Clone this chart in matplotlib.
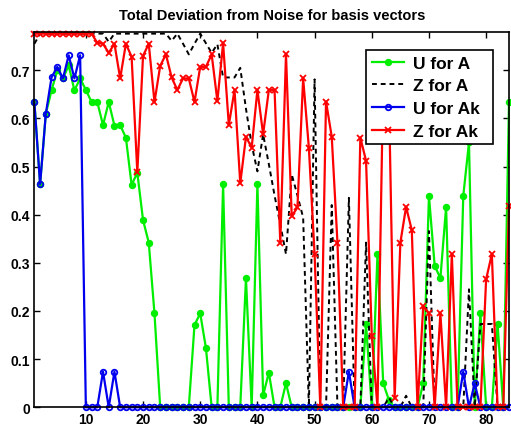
import matplotlib
matplotlib.use("Agg")
import matplotlib.pyplot as plt
import numpy as np

plt.rcParams['font.family'] = ['Liberation Sans', 'DejaVu Sans']
plt.rcParams['font.weight'] = 'bold'

x = list(range(1, 85))

u_for_a = [0.633, 0.463, 0.610, 0.658, 0.700, 0.683, 0.710, 0.658, 0.683, 0.659,
           0.634, 0.634, 0.586, 0.634, 0.585, 0.586, 0.560, 0.462, 0.487, 0.389,
           0.342, 0.195, 0.0, 0.0, 0.0, 0.0, 0.0, 0.0, 0.171, 0.195,
           0.123, 0.0, 0.0, 0.463, 0.0, 0.0, 0.0, 0.268, 0.0, 0.463,
           0.025, 0.072, 0.0, 0.0, 0.050, 0.0, 0.0, 0.0, 0.0, 0.0,
           0.0, 0.0, 0.0, 0.0, 0.0, 0.0, 0.0, 0.0, 0.172, 0.0,
           0.318, 0.050, 0.015, 0.0, 0.0, 0.0, 0.0, 0.0, 0.050, 0.439,
           0.294, 0.268, 0.416, 0.0, 0.0, 0.439, 0.550, 0.0, 0.195, 0.0,
           0.0, 0.173, 0.0, 0.635]

z_for_a = [0.755, 0.776, 0.776, 0.776, 0.776, 0.776, 0.776, 0.776, 0.776, 0.776,
           0.776, 0.776, 0.776, 0.759, 0.776, 0.776, 0.776, 0.776, 0.776, 0.776,
           0.776, 0.776, 0.776, 0.776, 0.761, 0.776, 0.755, 0.733, 0.755, 0.776,
           0.756, 0.736, 0.754, 0.685, 0.685, 0.685, 0.705, 0.620, 0.545, 0.490,
           0.567, 0.505, 0.440, 0.380, 0.318, 0.484, 0.440, 0.394, 0.0, 0.681,
           0.0, 0.0, 0.420, 0.0, 0.0, 0.435, 0.0, 0.0, 0.342, 0.0,
           0.0, 0.0, 0.020, 0.0, 0.0, 0.024, 0.0, 0.0, 0.0, 0.366,
           0.0, 0.0, 0.0, 0.0, 0.0, 0.0, 0.245, 0.0, 0.173, 0.173,
           0.173, 0.0, 0.0, 0.0]

u_for_ak = [0.633, 0.463, 0.610, 0.685, 0.707, 0.683, 0.731, 0.683, 0.731, 0.0,
            0.0, 0.0, 0.074, 0.0, 0.074, 0.0, 0.0, 0.0, 0.0, 0.0,
            0.0, 0.0, 0.0, 0.0, 0.0, 0.0, 0.0, 0.0, 0.0, 0.0,
            0.0, 0.0, 0.0, 0.0, 0.0, 0.0, 0.0, 0.0, 0.0, 0.0,
            0.0, 0.0, 0.0, 0.0, 0.0, 0.0, 0.0, 0.0, 0.0, 0.0,
            0.0, 0.0, 0.0, 0.0, 0.0, 0.074, 0.0, 0.0, 0.0, 0.0,
            0.0, 0.0, 0.0, 0.0, 0.0, 0.0, 0.0, 0.0, 0.0, 0.0,
            0.0, 0.0, 0.0, 0.0, 0.0, 0.074, 0.0, 0.050, 0.0, 0.0,
            0.0, 0.0, 0.0, 0.0]

z_for_ak = [0.776, 0.776, 0.776, 0.776, 0.776, 0.776, 0.776, 0.776, 0.776, 0.776,
            0.776, 0.757, 0.755, 0.736, 0.755, 0.683, 0.755, 0.728, 0.488, 0.730,
            0.755, 0.634, 0.709, 0.733, 0.685, 0.659, 0.683, 0.683, 0.634, 0.707,
            0.707, 0.733, 0.636, 0.756, 0.586, 0.659, 0.465, 0.562, 0.539, 0.659,
            0.567, 0.659, 0.659, 0.342, 0.733, 0.397, 0.415, 0.683, 0.539, 0.318,
            0.0, 0.635, 0.562, 0.342, 0.0, 0.0, 0.0, 0.560, 0.512, 0.149,
            0.0, 0.680, 0.650, 0.020, 0.342, 0.416, 0.368, 0.0, 0.210, 0.195,
            0.0, 0.195, 0.0, 0.318, 0.0, 0.0, 0.0, 0.0, 0.0, 0.266,
            0.318, 0.0, 0.0, 0.418]

fig = plt.figure(figsize=(5.11, 4.27), dpi=100)
ax = fig.add_axes([0.0673, 0.0438, 0.9288, 0.8796])

lw = 1.6
ax.plot(x, u_for_a, color='#00ee00', lw=lw, marker='o', ms=4.3, mfc='#00ee00', mec='#00ee00',
        label='U for A', clip_on=False)
ax.plot(x, z_for_a, color='black', lw=1.4, ls=(0, (2.5, 2)), label='Z for A', clip_on=False)
ax.plot(x, u_for_ak, color='#0000ee', lw=lw, marker='o', ms=4.0, mfc='none', mec='#0000ee', mew=1.3,
        label='U for Ak', clip_on=False)
ax.plot(x, z_for_ak, color='#ff0000', lw=lw, marker='x', ms=3.8, mec='#ff0000', mew=1.3,
        label='Z for Ak', clip_on=False)

ax.set_xlim(1, 84)
ax.set_ylim(0, 0.78)
ax.set_xticks([10, 20, 30, 40, 50, 60, 70, 80])
ax.set_yticks([0, 0.1, 0.2, 0.3, 0.4, 0.5, 0.6, 0.7])
ax.set_yticklabels(['0', '0.1', '0.2', '0.3', '0.4', '0.5', '0.6', '0.7'])
ax.tick_params(direction='in', length=4, width=1, top=True, right=True, labelsize=10)
ax.tick_params(axis='x', pad=3.5)
ax.tick_params(axis='y', pad=3)
for lab in ax.get_xticklabels() + ax.get_yticklabels():
    lab.set_fontweight('bold')
for s in ax.spines.values():
    s.set_linewidth(1.2)
    s.set_zorder(5)

ax.set_title('Total Deviation from Noise for basis vectors', fontsize=10.5, fontweight='bold', pad=9)

leg = ax.legend(loc='upper left', bbox_to_anchor=(0.6987, 0.0, 0.2676, 0.9513), mode='expand',
                borderaxespad=0, frameon=True, fancybox=False, edgecolor='black', framealpha=1,
                prop={'weight': 'bold', 'size': 12.5}, handlelength=1.84, labelspacing=0.43,
                borderpad=0.33, handletextpad=0.52)
leg.get_frame().set_linewidth(1.2)
leg.set_zorder(10)

fig.savefig('out.png', dpi=100)
